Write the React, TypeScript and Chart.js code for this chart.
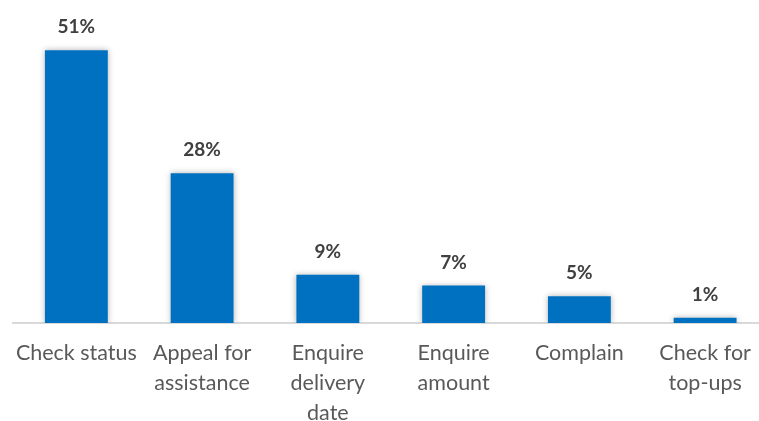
import React, { useEffect, useRef } from "react";
import { Chart, registerables } from "chart.js";

Chart.register(...registerables);

const categories: string[][] = [
  ["Check status"],
  ["Appeal for", "assistance"],
  ["Enquire", "delivery", "date"],
  ["Enquire", "amount"],
  ["Complain"],
  ["Check for", "top-ups"],
];
const shares: number[] = [51, 28, 9, 7, 5, 1];

const FONT = "Lato, 'Noto Sans', sans-serif";

const shadowPlugin = {
  id: "barShadow",
  beforeDatasetsDraw(chart: any) {
    const ctx = chart.ctx;
    ctx.save();
    ctx.shadowColor = "rgba(0,0,0,0.30)";
    ctx.shadowBlur = 6;
    ctx.shadowOffsetX = 0;
    ctx.shadowOffsetY = 0;
  },
  afterDatasetsDraw(chart: any) {
    chart.ctx.restore();
  },
};

const valueLabelPlugin = {
  id: "valueLabels",
  afterDatasetsDraw(chart: any) {
    const ctx = chart.ctx;
    const meta = chart.getDatasetMeta(0);
    ctx.save();
    ctx.font = `bold 19px ${FONT}`;
    ctx.fillStyle = "#404040";
    ctx.textAlign = "center";
    ctx.textBaseline = "alphabetic";
    meta.data.forEach((el: any, i: number) => {
      ctx.fillText(`${shares[i]}%`, el.x, el.y - 17);
    });
    ctx.restore();
  },
};

export default function App() {
  const ref = useRef<HTMLCanvasElement>(null);
  useEffect(() => {
    if (!ref.current) return;
    const chart = new Chart(ref.current, {
      type: "bar",
      data: {
        labels: categories,
        datasets: [
          {
            data: shares,
            backgroundColor: "#0070C0",
            borderWidth: 0,
            categoryPercentage: 1,
            barPercentage: 0.5,
          },
        ],
      },
      options: {
        responsive: false,
        animation: false,
        layout: { padding: { left: 10.5, right: 2, top: 2, bottom: 13 } },
        plugins: {
          legend: { display: false },
          tooltip: { enabled: false },
        },
        scales: {
          x: {
            grid: { display: false, drawTicks: false },
            border: { display: true, color: "#D9D9D9", width: 2 },
            ticks: {
              autoSkip: false,
              maxRotation: 0,
              minRotation: 0,
              padding: 15,
              color: "#595959",
              font: { family: FONT, size: 21.5, lineHeight: 1.395 },
            },
          },
          y: {
            display: false,
            min: 0,
            max: 60,
          },
        },
      },
      plugins: [shadowPlugin, valueLabelPlugin],
    });
    return () => chart.destroy();
  }, []);
  return (
    <div style={{ position: "fixed", left: 0, top: 0, width: 770, height: 456, background: "#fff" }}>
      <canvas ref={ref} width={770} height={456} style={{ display: "block" }} />
    </div>
  );
}
